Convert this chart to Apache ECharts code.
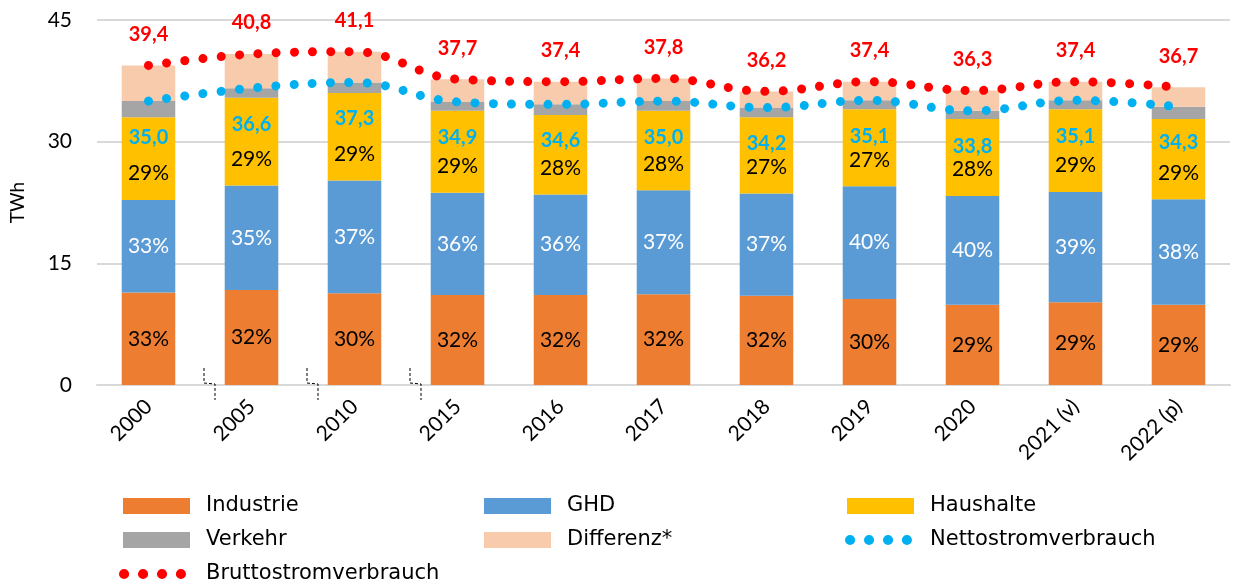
<!DOCTYPE html>
<html>
<head>
<meta charset="utf-8">
<script src="https://cdn.jsdelivr.net/npm/echarts@6/dist/echarts.min.js"></script>
<style>
  html, body { margin: 0; padding: 0; background: #fff; }
  #chart { width: 1233px; height: 585px; }
</style>
</head>
<body>
<div id="chart"></div>
<script>
var categories = ["2000", "2005", "2010", "2015", "2016", "2017", "2018", "2019", "2020", "2021 (v)", "2022 (p)"];
var industrie = [11.4, 11.7, 11.3, 11.1, 11.1, 11.2, 11.0, 10.6, 9.9, 10.2, 9.9];
var ghd = [11.4, 12.9, 13.9, 12.6, 12.4, 12.8, 12.6, 13.9, 13.4, 13.6, 13.0];
var haushalte = [10.2, 10.8, 10.8, 10.1, 9.8, 9.8, 9.4, 9.5, 9.5, 10.2, 9.9];
var verkehr = [2.0, 1.2, 1.3, 1.1, 1.3, 1.2, 1.2, 1.1, 1.0, 1.1, 1.5];
var differenz = [4.4, 4.2, 3.8, 2.8, 2.8, 2.8, 2.0, 2.3, 2.5, 2.3, 2.4];
var netto = [35.0, 36.6, 37.3, 34.9, 34.6, 35.0, 34.2, 35.1, 33.8, 35.1, 34.3];
var brutto = [39.4, 40.8, 41.1, 37.7, 37.4, 37.8, 36.2, 37.4, 36.3, 37.4, 36.7];
// Anteile am Nettostromverbrauch (%)
var pctIndustrie = [33, 32, 30, 32, 32, 32, 32, 30, 29, 29, 29];
var pctGhd = [33, 35, 37, 36, 36, 37, 37, 40, 40, 39, 38];
var pctHaushalte = [29, 29, 29, 29, 28, 28, 27, 27, 28, 29, 29];
// Achsenbrüche nach diesen Kategorien
var breaks = [0, 1, 2];
var yTicks = [0, 15, 30, 45];

var font = "Lato, 'Open Sans', sans-serif";
var legendFont = "'DejaVu Sans', sans-serif";
// vier Punkte als Legendensymbol der Linien
var dotIcon = "path://M0,5a5,5 0 1,0 10,0a5,5 0 1,0 -10,0z" +
  "M18.7,5a5,5 0 1,0 10,0a5,5 0 1,0 -10,0z" +
  "M37.4,5a5,5 0 1,0 10,0a5,5 0 1,0 -10,0z" +
  "M56,5a5,5 0 1,0 10,0a5,5 0 1,0 -10,0z";

var chart = echarts.init(document.getElementById("chart"));

function comma(v) {
  return v.toFixed(1).replace(".", ",");
}

function leg(name, left, top, icon, pad) {
  return {
    left: left, top: top,
    itemWidth: 67, itemHeight: 16, itemTextGap: 5,
    itemStyle: { borderWidth: 0 },
    textStyle: {
      fontFamily: legendFont, fontSize: 21, color: "#000", lineHeight: 22,
      padding: [0, 0, 0, pad || 11]
    },
    data: [{ name: name, icon: icon }]
  };
}

function barSeries(name, data, color, label) {
  return {
    name: name,
    type: "bar",
    stack: "total",
    barWidth: "52%",
    data: data,
    itemStyle: { color: color },
    label: label || { show: false }
  };
}

function dotLine(name, data, color, label) {
  return {
    name: name,
    type: "line",
    data: data,
    smooth: 0.4,
    symbol: "circle",
    symbolSize: 0.1,
    showSymbol: true,
    z: 5,
    lineStyle: { color: color, width: 9, type: [0.01, 18.3], cap: "round" },
    itemStyle: { color: color },
    label: label
  };
}

chart.setOption({
  animation: false,
  textStyle: { fontFamily: font },
  grid: { left: 97, right: 3, top: 20, bottom: 200 },
  legend: [
    leg("Industrie", 118, 490, "rect"),
    leg("Verkehr", 118, 524, "rect"),
    leg("Bruttostromverbrauch", 114, 558, dotIcon, 15),
    leg("GHD", 479, 490, "rect"),
    leg("Differenz*", 479, 524, "rect"),
    leg("Haushalte", 842, 490, "rect"),
    leg("Nettostromverbrauch", 840, 524, dotIcon, 13)
  ],
  xAxis: {
    type: "category",
    data: categories,
    axisLine: { lineStyle: { color: "#d9d9d9", width: 2 } },
    axisTick: { show: false },
    axisLabel: { rotate: 45, fontSize: 21, color: "#000", margin: 18, interval: 0 }
  },
  yAxis: {
    type: "value",
    min: 0,
    max: 45,
    interval: 15,
    name: "TWh",
    nameLocation: "middle",
    nameGap: 70,
    nameTextStyle: { fontSize: 19, color: "#000" },
    axisLabel: {
      fontSize: 21, color: "#000", margin: 25,
      formatter: function (v) { return yTicks.indexOf(v) >= 0 ? String(v) : ""; }
    },
    splitLine: { lineStyle: { color: "#d9d9d9", width: 2 } }
  },
  series: [
    barSeries("Industrie", industrie, "#ED7D31", {
      show: true, position: "inside", fontSize: 21, color: "#000",
      formatter: function (p) { return pctIndustrie[p.dataIndex] + "%"; }
    }),
    barSeries("GHD", ghd, "#5B9BD5", {
      show: true, position: "inside", fontSize: 21, color: "#fff",
      formatter: function (p) { return pctGhd[p.dataIndex] + "%"; }
    }),
    barSeries("Haushalte", haushalte, "#FFC000", {
      show: true, position: "insideBottom", distance: 16, fontSize: 21, color: "#000",
      formatter: function (p) { return pctHaushalte[p.dataIndex] + "%"; }
    }),
    barSeries("Verkehr", verkehr, "#A5A5A5"),
    barSeries("Differenz*", differenz, "#F8CBAD"),
    dotLine("Nettostromverbrauch", netto, "#00B0F0", {
      show: true, position: "bottom", distance: 26,
      fontSize: 20, fontWeight: "bold", color: "#00B0F0",
      formatter: function (p) { return comma(p.value); }
    }),
    dotLine("Bruttostromverbrauch", brutto, "#FF0000", {
      show: true, position: "top", distance: 21,
      fontSize: 20, fontWeight: "bold", color: "#FF0000",
      formatter: function (p) { return comma(p.value); }
    }),
    {
      name: "Achsenbruch",
      type: "custom",
      data: breaks,
      z: 6,
      silent: true,
      renderItem: function (params, api) {
        var base = api.coord([api.value(0), 0]);
        var half = api.size([1, 0])[0] / 2;
        var x = base[0] + half;
        var y = base[1];
        return {
          type: "polyline",
          shape: {
            points: [[x + 4, y - 17], [x + 4, y - 2], [x + 15, y - 1], [x + 15, y + 15]]
          },
          style: { stroke: "#000", fill: null, lineWidth: 1, lineDash: [3, 2] }
        };
      }
    }
  ]
});
</script>
</body>
</html>
